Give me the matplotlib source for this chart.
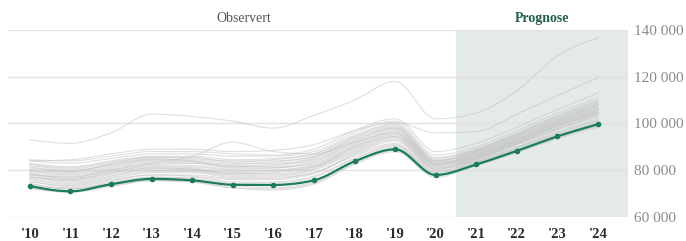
import numpy as np
import matplotlib
matplotlib.use('Agg')
import matplotlib.pyplot as plt

years = list(range(2010, 2025))
year_labels = ["'%02d" % (y % 100) for y in years]
forecast_start = 2020.5

# highlighted series (thousands)
main = [73.2, 71.0, 74.0, 76.3, 75.7, 73.8, 73.7, 75.7, 83.8, 89.0, 78.0, 82.5, 88.3, 94.5, 99.7]

# background series (thousands)
g01 = [72.5, 70.5, 73.0, 75.5, 75.0, 72.5, 72.0, 74.5, 82.5, 88.0, 77.0, 82.0, 87.5, 93.5, 98.5]
g02 = [74.0, 72.0, 75.0, 77.0, 76.5, 74.5, 74.5, 77.0, 85.0, 90.5, 79.0, 83.5, 89.5, 95.5, 101.0]
g03 = [75.0, 73.5, 76.0, 78.0, 77.5, 76.0, 76.0, 78.5, 86.5, 91.5, 80.0, 84.0, 90.0, 96.5, 102.0]
g04 = [76.0, 74.0, 76.5, 79.0, 79.0, 77.0, 77.0, 79.0, 87.0, 92.5, 80.5, 84.5, 91.0, 97.5, 103.0]
g05 = [77.0, 75.5, 78.0, 80.0, 80.0, 78.0, 78.0, 80.5, 88.0, 93.5, 81.0, 85.0, 91.5, 98.0, 104.0]
g06 = [78.0, 76.0, 78.5, 81.0, 80.5, 79.0, 79.5, 81.5, 89.0, 94.5, 81.5, 85.5, 92.0, 99.0, 105.0]
g07 = [78.5, 77.0, 79.5, 81.5, 81.5, 80.0, 80.0, 82.0, 90.0, 95.0, 82.0, 86.0, 92.5, 99.5, 105.5]
g08 = [79.0, 77.5, 80.0, 82.5, 82.0, 80.5, 81.0, 83.0, 90.5, 96.0, 82.5, 86.5, 93.0, 100.0, 106.0]
g09 = [80.0, 78.0, 80.5, 83.0, 83.0, 81.5, 81.5, 84.0, 91.5, 96.5, 83.0, 87.0, 93.5, 100.5, 107.0]
g10 = [80.5, 79.0, 81.5, 84.0, 83.5, 82.0, 82.5, 84.5, 92.0, 97.5, 83.5, 87.5, 94.0, 101.0, 107.5]
g11 = [81.0, 80.0, 82.0, 84.5, 84.5, 83.0, 83.0, 85.5, 93.0, 98.0, 84.0, 88.0, 94.5, 101.5, 108.0]
g12 = [82.0, 80.5, 83.0, 85.5, 85.0, 84.0, 84.0, 86.0, 94.0, 99.0, 84.5, 88.5, 95.5, 102.5, 109.0]
g13 = [83.0, 81.5, 84.0, 86.0, 86.0, 84.5, 85.0, 87.0, 95.0, 100.0, 85.5, 89.0, 96.0, 103.5, 110.0]
g14 = [84.0, 83.0, 85.0, 87.0, 87.0, 86.0, 86.0, 88.0, 96.0, 101.0, 86.5, 90.0, 97.0, 104.5, 111.0]
g15 = [84.5, 84.0, 86.0, 88.0, 88.0, 87.0, 86.5, 89.0, 97.0, 102.0, 88.0, 91.5, 98.5, 106.0, 113.0]
g16 = [78.0, 77.0, 80.0, 83.0, 86.0, 92.0, 88.0, 87.0, 92.0, 96.0, 83.0, 86.5, 93.0, 100.0, 106.0]
g17 = [74.5, 72.0, 74.0, 76.0, 75.0, 72.5, 71.5, 74.0, 83.0, 88.5, 78.0, 82.0, 88.0, 94.0, 99.0]
g18 = [76.5, 74.5, 77.0, 79.5, 79.5, 77.5, 77.5, 80.0, 87.5, 93.0, 80.5, 84.5, 91.0, 97.5, 103.5]
g19 = [77.5, 75.0, 77.5, 80.5, 80.0, 78.5, 78.5, 81.0, 88.5, 94.0, 81.0, 85.0, 91.5, 98.5, 104.5]
g20 = [79.5, 78.5, 81.0, 83.5, 83.0, 81.0, 81.0, 83.5, 91.0, 97.0, 83.0, 87.0, 93.5, 100.5, 106.5]
g21 = [81.5, 79.5, 82.5, 85.0, 84.0, 82.5, 83.5, 86.0, 93.5, 98.5, 84.0, 88.0, 95.0, 102.0, 108.5]
g22 = [75.5, 73.0, 75.5, 78.0, 78.0, 76.5, 76.5, 79.0, 86.0, 91.0, 79.5, 83.5, 89.5, 96.0, 101.5]
g23 = [73.5, 72.5, 74.5, 77.0, 77.0, 75.0, 75.0, 77.5, 85.0, 90.0, 79.0, 83.0, 89.0, 95.0, 100.5]
g24 = [82.5, 81.0, 83.5, 85.5, 85.5, 83.5, 84.5, 87.0, 94.5, 99.5, 85.0, 89.0, 95.5, 103.0, 109.5]
g25 = [80.0, 79.5, 82.5, 84.5, 84.0, 81.5, 82.0, 85.0, 92.5, 98.0, 84.0, 88.0, 94.5, 101.5, 108.0]
g26 = [78.5, 76.5, 79.0, 82.0, 81.0, 79.5, 80.0, 82.5, 90.0, 95.5, 82.5, 86.0, 92.5, 99.0, 105.0]
g27 = [77.0, 76.0, 79.0, 81.0, 80.5, 78.5, 79.0, 81.5, 89.5, 94.5, 82.0, 85.5, 92.0, 99.0, 104.5]
g28 = [72.0, 71.0, 73.5, 75.5, 75.5, 73.5, 72.5, 75.0, 83.5, 88.5, 77.5, 82.5, 88.0, 94.0, 99.5]
g29 = [84.0, 84.5, 87.0, 89.0, 89.0, 88.0, 88.5, 91.0, 97.0, 100.5, 96.0, 96.5, 104.0, 112.0, 119.5]
g30 = [93.0, 91.5, 96.0, 104.0, 103.0, 101.0, 98.0, 103.5, 110.0, 118.0, 102.0, 104.5, 114.0, 129.0, 136.5]
others = [g01, g02, g03, g04, g05, g06, g07, g08, g09, g10, g11, g12, g13, g14, g15,
          g16, g17, g18, g19, g20, g21, g22, g23, g24, g25, g26, g27, g28, g29, g30]

y_ticks = [60000, 80000, 100000, 120000, 140000]


def monotone_x(x, y, n=20):
    # same idea as d3.curveMonotoneX
    x = np.asarray(x, float)
    y = np.asarray(y, float)
    h = np.diff(x)
    s = np.diff(y) / h
    t = np.zeros(len(x))
    for i in range(1, len(x) - 1):
        p = (s[i - 1] * h[i] + s[i] * h[i - 1]) / (h[i - 1] + h[i])
        t[i] = (np.sign(s[i - 1]) + np.sign(s[i])) * min(abs(s[i - 1]), abs(s[i]), 0.5 * abs(p))
    t[0] = (3 * s[0] - t[1]) / 2
    t[-1] = (3 * s[-1] - t[-2]) / 2
    xs, ys = [], []
    for i in range(len(x) - 1):
        u = np.linspace(0, 1, n, endpoint=False)
        h00 = 2 * u**3 - 3 * u**2 + 1
        h10 = u**3 - 2 * u**2 + u
        h01 = -2 * u**3 + 3 * u**2
        h11 = u**3 - u**2
        xs.append(x[i] + u * h[i])
        ys.append(h00 * y[i] + h10 * h[i] * t[i] + h01 * y[i + 1] + h11 * h[i] * t[i + 1])
    xs.append([x[-1]])
    ys.append([y[-1]])
    return np.concatenate(xs), np.concatenate(ys)


plt.rcParams['font.family'] = ['Liberation Serif', 'DejaVu Serif']

fig = plt.figure(figsize=(6.86, 2.41), dpi=100)
ax = fig.add_axes([8 / 686, 24 / 241, 620 / 686, 187 / 241])

ax.axvspan(forecast_start, 2024.74, color='#e4e9e9', zorder=0, lw=0)

for vals in others:
    xs, ys = monotone_x(years, np.array(vals) * 1000)
    ax.plot(xs, ys, color='#c4c4c4', lw=0.8, alpha=0.55, zorder=2)

xs, ys = monotone_x(years, np.array(main) * 1000)
ax.plot(xs, ys, color='#1c7a5d', lw=1.6, zorder=4, solid_capstyle='round')
ax.plot(years, np.array(main) * 1000, 'o', color='#1c7a5d', ms=3, zorder=5)

ax.set_xlim(2009.46, 2024.74)
ax.set_ylim(60000, 140000)
ax.set_yticks(y_ticks)
ax.set_yticklabels(['{:,}'.format(v).replace(',', ' ') for v in y_ticks])
ax.yaxis.tick_right()
ax.set_xticks(years)
ax.set_xticklabels(year_labels, fontweight='bold')
ax.tick_params(axis='y', length=0, pad=4, labelsize=11, labelcolor='#8a8a8a')
ax.tick_params(axis='x', length=0, pad=8, labelsize=10.5, labelcolor='#2b2b2b')
ax.grid(axis='y', color='#e2e2e2', lw=1, zorder=1)
ax.set_axisbelow(True)
for sp in ax.spines.values():
    sp.set_visible(False)
ax.patch.set_alpha(0)

ax.text(2015.27, 1.059, 'Observert', transform=ax.get_xaxis_transform(),
        ha='center', va='center', fontsize=10, color='#555555')
ax.text(2022.62, 1.059, 'Prognose', transform=ax.get_xaxis_transform(),
        ha='center', va='center', fontsize=10, fontweight='bold', color='#1e5e4a')

fig.savefig('out.png', dpi=100, facecolor='white')
